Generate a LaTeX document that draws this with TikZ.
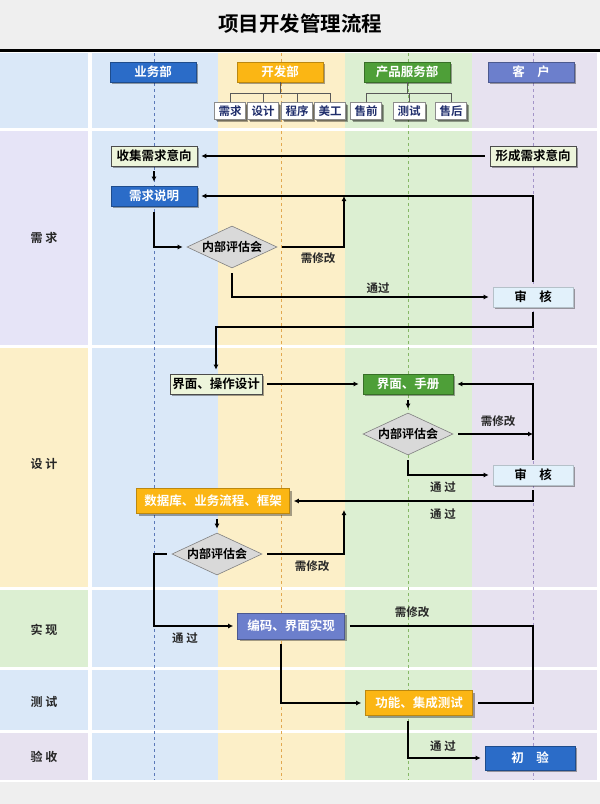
\documentclass[tikz,border=0pt]{standalone}
\usepackage{fontspec}
\setmainfont[BoldFont={Noto Sans CJK SC Bold}]{Noto Sans CJK SC}
\usetikzlibrary{shapes.geometric,arrows.meta,shadows}
\definecolor{cTitle}{HTML}{EFEFEF}
\definecolor{lBlue}{HTML}{DAE8F8}
\definecolor{lYel}{HTML}{FCEFC8}
\definecolor{lGrn}{HTML}{DCEFD2}
\definecolor{lPur}{HTML}{E7E2F0}
\definecolor{lLav}{HTML}{E6E4F7}
\definecolor{cBlue}{HTML}{2B6CC8}
\definecolor{cOrg}{HTML}{FBB614}
\definecolor{cGrn}{HTML}{4E9F38}
\definecolor{cSlate}{HTML}{6C7FCC}
\definecolor{cPale}{HTML}{EDF5DB}
\definecolor{cSky}{HTML}{E2F1FB}
\definecolor{cNavy}{HTML}{1F2D6B}
\definecolor{dBlue}{HTML}{5A78B8}
\definecolor{dOrg}{HTML}{E2A850}
\definecolor{dGrn}{HTML}{86B866}
\definecolor{dPur}{HTML}{A394C8}
\tikzset{
  box/.style={rectangle, draw, line width=0.6pt, minimum height=20pt, inner sep=1pt,
    font=\bfseries\fontsize{12.5}{14}\selectfont,
    drop shadow={shadow xshift=2pt,shadow yshift=-2pt,fill=black,opacity=0.35}},
  bluebox/.style={box, fill=cBlue, draw=cBlue!70!black, text=white},
  orgbox/.style={box, fill=cOrg, draw=cOrg!75!black, text=white},
  grnbox/.style={box, fill=cGrn, draw=cGrn!70!black, text=white},
  slatebox/.style={box, fill=cSlate, draw=cSlate!70!black, text=white},
  palebox/.style={box, fill=cPale, draw=black!70, text=black},
  skybox/.style={box, fill=cSky, draw=cSky!80!black, text=black},
  subbox/.style={box, fill=white, draw=black!45, text=cNavy, minimum height=17pt,
    font=\bfseries\fontsize{11.5}{13}\selectfont,
    drop shadow={shadow xshift=1.5pt,shadow yshift=-1.5pt,fill=black,opacity=0.3}},
  dia/.style={diamond, draw=black!50, fill=black!15, line width=0.6pt, aspect=2.1,
    inner sep=0.5pt, minimum width=90pt, minimum height=42pt,
    font=\bfseries\fontsize{12}{13}\selectfont},
  flow/.style={line width=1.8pt, black, -{Latex[length=5pt,width=5pt]}, shorten >=4pt, shorten <=5pt},
  plain/.style={line width=1.8pt, black, shorten <=5pt, shorten >=5pt},
  tree/.style={line width=0.8pt, black!65},
  lbl/.style={font=\bfseries\fontsize{11.5}{13}\selectfont, text=black!85},
  rowlbl/.style={font=\bfseries\fontsize{12}{14}\selectfont, text=black!85},
  lane/.style={line width=1pt, dash pattern=on 3pt off 3pt},
}
\begin{document}
\begin{tikzpicture}[x=1pt,y=-1pt]
\useasboundingbox (0,0) rectangle (600,804);
% backgrounds
\fill[cTitle] (0,0) rectangle (600,49);
\draw[line width=2.5pt, black] (0,50.5) -- (600,50.5);
\fill[cTitle] (0,782) rectangle (600,804);
\foreach \ya/\yb/\cc in {53/128/lBlue,131/345/lLav,348/587/lYel,590/667/lGrn,670/730/lBlue,733/780/lPur}{
  \fill[\cc] (0,\ya) rectangle (88,\yb);
  \fill[lBlue] (92,\ya) rectangle (218,\yb);
  \fill[lYel] (218,\ya) rectangle (345,\yb);
  \fill[lGrn] (345,\ya) rectangle (472,\yb);
  \fill[lPur] (472,\ya) rectangle (597,\yb);
}
\draw[lane, dBlue] (154,53) -- (154,780);
\draw[lane, dOrg] (281,53) -- (281,780);
\draw[lane, dGrn] (408,53) -- (408,780);
\draw[lane, dPur] (533,53) -- (533,780);
% title
\node (title) at (300,24) {\bfseries\fontsize{20.5}{24}\selectfont 项目开发管理流程};
% row labels
\node[rowlbl] (r1) at (44,238) {需\ 求};
\node[rowlbl] (r2) at (44,464) {设\ 计};
\node[rowlbl] (r3) at (44,630) {实\ 现};
\node[rowlbl] (r4) at (44,702) {测\ 试};
\node[rowlbl] (r5) at (44,757) {验\ 收};
% header
\node[bluebox, minimum width=86pt] (yw) at (153,72) {业务部};
\node[orgbox, minimum width=86pt] (kf) at (280,72) {开发部};
\node[grnbox, minimum width=86pt] (cp) at (407,72) {产品服务部};
\node[slatebox, minimum width=86pt] (kh) at (531,72) {客\quad 户};
\node[subbox, minimum width=31pt] (s1) at (230,111) {需求};
\node[subbox, minimum width=31pt] (s2) at (263,111) {设计};
\node[subbox, minimum width=31pt] (s3) at (297,111) {程序};
\node[subbox, minimum width=31pt] (s4) at (330,111) {美工};
\node[subbox, minimum width=31pt] (p1) at (366,111) {售前};
\node[subbox, minimum width=32pt] (p2) at (409,111) {测试};
\node[subbox, minimum width=31pt] (p3) at (451,111) {售后};
\draw[tree] (kf.south) -- (kf.south |- 0,93);
\draw[tree] (s1.north) -- (s1.north |- 0,93) -| (s4.north);
\draw[tree] (s2.north) -- (s2.north |- 0,93);
\draw[tree] (s3.north) -- (s3.north |- 0,93);
\draw[tree] (cp.south) -- (cp.south |- 0,93);
\draw[tree] (p1.north) -- (p1.north |- 0,93) -| (p3.north);
\draw[tree] (p2.north) -- (p2.north |- 0,93);
% requirement row
\node[palebox, minimum width=86pt] (sj1) at (154,156) {收集需求意向};
\node[palebox, minimum width=86pt] (xc) at (533,156) {形成需求意向};
\node[bluebox, minimum width=86pt] (xq) at (154,196) {需求说明};
\node[dia] (d1) at (232,247) {内部评估会};
\node[skybox, minimum width=80pt] (sh1) at (533,297) {审\quad 核};
\coordinate (c1) at (344,196);
\draw[flow] (xc.west) -- (sj1.east);
\draw[flow] (sj1.south) -- (xq.north);
\draw[flow, shorten <=6pt] (xq.south) |- (d1.west);
\draw[flow, shorten >=0pt] (d1.east) -| (c1);
\node[lbl] (l1) at (318,258) {需修改};
\draw[flow] (sh1.north) |- (xq.east);
\draw[flow] (d1.south) |- (sh1.west);
\node[lbl] (l2) at (378,288) {通过};
% design row
\node[palebox, minimum width=92pt] (jm) at (216,384) {界面、操作设计};
\node[grnbox, minimum width=90pt] (sc) at (408,384) {界面、手册};
\node[dia] (d2) at (408,434) {内部评估会};
\node[skybox, minimum width=80pt] (sh2) at (533,475) {审\quad 核};
\node[orgbox, minimum width=153pt, minimum height=25pt] (db) at (213,501) {数据库、业务流程、框架};
\node[dia] (d3) at (217,554) {内部评估会};
\coordinate (t1) at (216,327);
\coordinate (c3) at (533,434);
\coordinate (c4) at (344,510);
\coordinate (t2) at (154,554);
\draw[flow] (sh1.south) |- (t1) -- (jm.north);
\draw[flow] (jm.east) -- (sc.west);
\draw[flow, shorten <=6pt] (sc.south) -- (d2.north);
\draw[flow, shorten >=0pt] (d2.east) -- (c3);
\node[lbl] (l3) at (498,421) {需修改};
\draw[flow] (sh2.north) |- (sc.east);
\draw[flow] (d2.south) |- (sh2.west);
\node[lbl] (l4) at (443,487) {通\ 过};
\draw[flow] (sh2.south) |- (db.east);
\node[lbl] (l5) at (443,514) {通\ 过};
\draw[flow] (d3.north |- db.south) -- (d3.north);
\draw[flow, shorten >=0pt] (d3.east) -| (c4);
\node[lbl] (l6) at (312,566) {需修改};
% implementation / test / acceptance
\node[slatebox, minimum width=107pt, minimum height=26pt] (bm) at (291,626) {编码、界面实现};
\node[orgbox, minimum width=107pt, minimum height=25pt] (gn) at (419,703) {功能、集成测试};
\node[bluebox, minimum width=90pt, minimum height=24pt] (cy) at (530,758) {初\quad 验};
\coordinate (t3) at (533,626);
\draw[flow, shorten <=5pt] (d3.west) -- (t2) |- (bm.west);
\node[lbl] (l7) at (185,638) {通\ 过};
\draw[plain] (bm.east) -- (t3) |- (gn.east);
\node[lbl] (l8) at (412,612) {需修改};
\draw[flow] ([xshift=-10pt]bm.south) |- (gn.west);
\draw[flow] ([xshift=-11pt]gn.south) |- (cy.west);
\node[lbl] (l9) at (443,746) {通\ 过};
\end{tikzpicture}
\end{document}
